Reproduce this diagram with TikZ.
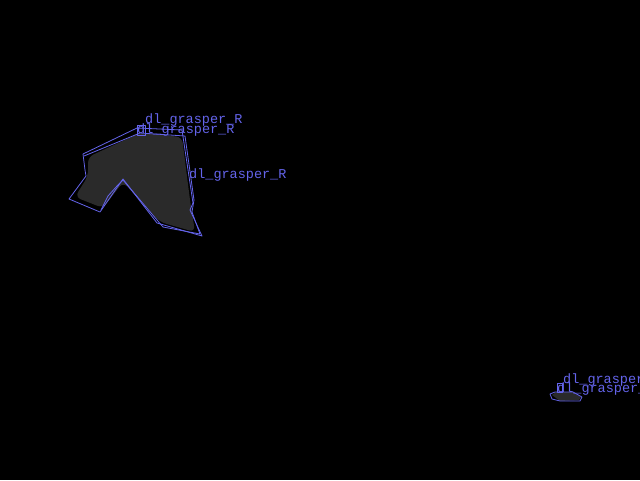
\documentclass[tikz,border=0pt]{standalone}
\usepackage{fontspec}
\newfontfamily\labfont{Liberation Mono}
\definecolor{annblue}{RGB}{100,100,235}
\definecolor{blobgray}{RGB}{42,42,42}
\begin{document}
\begin{tikzpicture}[x=1pt,y=-1pt,
  outline/.style={draw=annblue,line width=0.8pt,line join=round},
  blob/.style={fill=blobgray,draw=none},
  lab/.style={text=annblue,font=\labfont\fontsize{13.5}{14}\selectfont,anchor=base west,inner sep=0pt}]
\fill[black] (0,0) rectangle (640,480);
\useasboundingbox (0,0) rectangle (640,480);
% gray object regions
\fill[blob,rounded corners=6pt] (88,157) -- (140,133) -- (182,137) -- (190,200) -- (195,232) -- (160,222) -- (123,182) -- (103,208) -- (75,197) -- (88,176) -- cycle;
\fill[blob] (552,395) -- (556,392) -- (573,392) -- (581,397) -- (579,400) -- (560,401) -- cycle;
% outlines
\draw[outline] (83,154) -- (137,128) -- (182,130) -- (193,203) -- (190,210) -- (202,236) -- (157,223) -- (123,179) -- (100,212) -- (69,199) -- (86,176) -- (85,170) -- cycle;
\draw[outline] (84,156) -- (140,133) -- (185,136) -- (194,200) -- (192,212) -- (200,234) -- (163,227) -- (123,180) -- (117,186) -- (108,196) -- (101,210);
\draw[outline] (137,125) rectangle (145,135);
\draw[outline] (550,394) -- (555,392) -- (573,392) -- (582,397) -- (580,401) -- (560,401) -- (552,399) -- cycle;
\draw[outline] (557,383) rectangle (562,392);
% labels
\node[lab] (l1) at (145,123) {dl\_grasper\_R};
\node[lab] (l2) at (137,133) {dl\_grasper\_R};
\node[lab] (l3) at (189,178) {dl\_grasper\_R};
\node[lab] (l4) at (563,383) {dl\_grasper\_R};
\node[lab] (l5) at (557,392) {dl\_grasper\_R};
\end{tikzpicture}
\end{document}
